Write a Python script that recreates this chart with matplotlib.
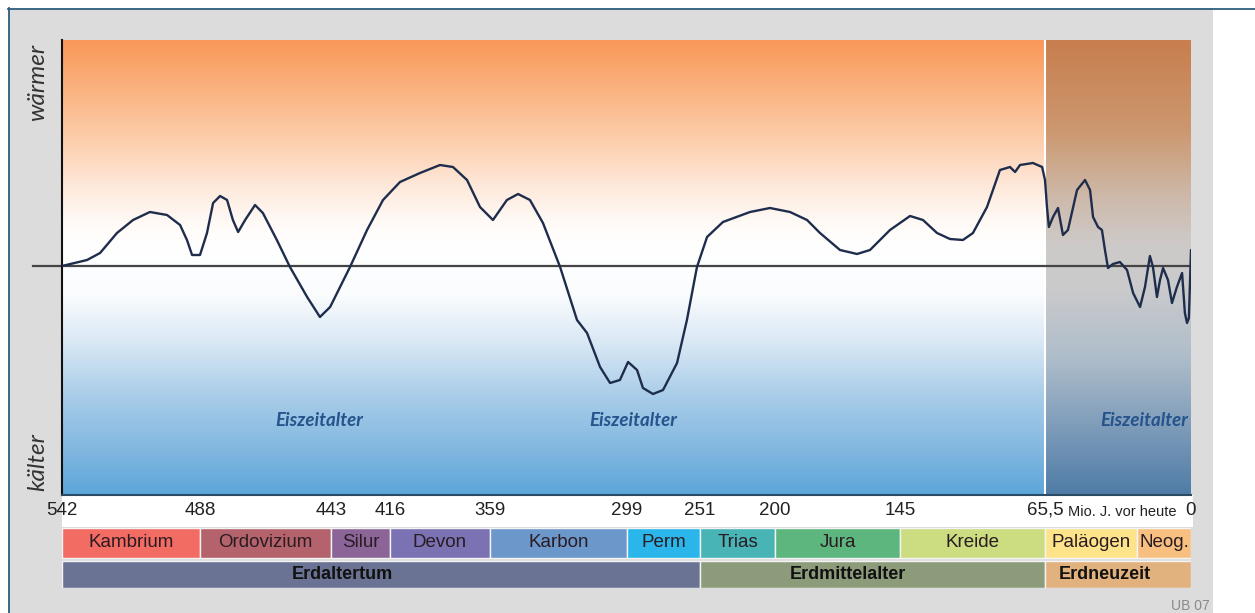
import numpy as np
import matplotlib
matplotlib.use("Agg")
import matplotlib.pyplot as plt
from matplotlib.patches import Rectangle

# ---------------- data ----------------
# non-linear time axis of the original chart (age -> horizontal pixel)
boundary_ages = [542, 488, 443, 416, 359, 299, 251, 200, 145, 65.5, 23, 0]
boundary_pos = [62, 200, 331, 390, 490, 627, 700, 775, 900, 1045, 1137, 1191]

tick_ages = [542, 488, 443, 416, 359, 299, 251, 200, 145, 65.5, 0]
tick_labels = ["542", "488", "443", "416", "359", "299", "251", "200", "145", "65,5", "0"]

periods = ["Kambrium", "Ordovizium", "Silur", "Devon", "Karbon", "Perm",
           "Trias", "Jura", "Kreide", "Paläogen", "Neog."]
period_start = [542, 488, 443, 416, 359, 299, 251, 200, 145, 65.5, 23]
period_end = [488, 443, 416, 359, 299, 251, 200, 145, 65.5, 23, 0]
period_colors = ["#f26c64", "#b4636c", "#8b6598", "#7a72b3", "#6b97cb", "#2ab6ea",
                 "#48b4b6", "#5cb67e", "#cbdd80", "#fde38a", "#f8c080"]

eras = ["Erdaltertum", "Erdmittelalter", "Erdneuzeit"]
era_start = [542, 251, 65.5]
era_end = [251, 65.5, 0]
era_label_age = [438, 168, 38]
era_colors = ["#6a7393", "#8c9c7b", "#e2b27e"]

curve_age = [542, 532.2, 527.1, 520.5, 514.2, 507.6, 500.9, 495.8, 493.1, 491.1,
             488.0, 485.6, 483.5, 481.1, 478.7, 476.7, 474.9, 472.5, 469.1, 466.4,
             461.6, 457.1, 451.2, 446.8, 443.3, 434.3, 426.5, 419.2, 410.3, 398.9,
             387.5, 380.1, 372.1, 364.7, 357.7, 351.6, 346.7, 341.5, 335.8, 328.3,
             320.9, 316.5, 310.8, 306.4, 302.1, 298.3, 292.4, 288.5, 281.9, 275.3,
             266.1, 259.6, 253.0, 246.2, 235.4, 217.0, 203.4, 193.4, 185.9, 180.2,
             171.4, 163.9, 158.2, 149.4, 139.5, 132.4, 124.7, 117.6, 110.5, 105.0,
             97.3, 90.2, 84.7, 81.9, 79.2, 72.1, 67.1, 65.5, 64.6, 63.7,
             61.8, 59.5, 57.2, 54.9, 50.7, 47.0, 44.7, 43.3, 41.0, 39.2,
             37.8, 36.4, 34.1, 30.9, 27.6, 24.8, 21.7, 19.6, 17.5, 16.2,
             14.5, 13.2, 11.9, 9.8, 8.1, 6.0, 3.8, 2.6, 1.7, 0.9,
             0.0]
curve_val = [0, 0.6, 1.3, 3.3, 4.6, 5.4, 5.1, 4.1, 2.6, 1.1,
             1.1, 3.3, 6.3, 7.0, 6.6, 4.6, 3.4, 4.6, 6.1, 5.3,
             2.6, -0.1, -3.1, -5.1, -4.1, -0.1, 3.6, 6.6, 8.4, 9.3,
             10.1, 9.9, 8.6, 5.9, 4.6, 6.6, 7.2, 6.6, 4.3, -0.1,
             -5.4, -6.7, -10.1, -11.7, -11.4, -9.6, -10.4, -12.2, -12.8, -12.4,
             -9.7, -5.4, -0.1, 2.9, 4.4, 5.4, 5.8, 5.4, 4.6, 3.3,
             1.6, 1.2, 1.6, 3.6, 5.0, 4.6, 3.3, 2.7, 2.6, 3.3,
             5.9, 9.6, 9.9, 9.4, 10.1, 10.3, 9.9, 8.6, 5.9, 3.9,
             4.9, 5.8, 3.1, 3.6, 7.6, 8.6, 7.6, 4.9, 3.9, 3.6,
             1.6, -0.2, 0.2, 0.4, -0.4, -2.7, -4.1, -2.1, 1.0, -0.1,
             -3.1, -1.4, -0.2, -1.4, -3.7, -2.1, -0.7, -4.7, -5.7, -5.2,
             1.6]

ice_age_labels = ["Eiszeitalter", "Eiszeitalter", "Eiszeitalter"]
ice_age_x = [447, 295, 1]
ice_age_y = [-15.4, -15.4, -15.4]

# ---------------- helpers ----------------
_ba = np.array(boundary_ages, float)
_bp = np.array(boundary_pos, float)


def fwd(a):
    # increasing in age; axis is then inverted with xlim(542, 0)
    return -np.interp(-np.asarray(a, float), -_ba, _bp)


def inv(p):
    return np.interp(-np.asarray(p, float), _bp, _ba)


def gradient(stops, n=456):
    t = np.linspace(0, 1, n)
    fr = [s[0] for s in stops]
    cols = np.array([s[1] for s in stops], float) / 255.0
    img = np.stack([np.interp(t, fr, cols[:, i]) for i in range(3)], axis=-1)
    return img[:, None, :]


W, H = 1255, 613
fig = plt.figure(figsize=(W / 100, H / 100), dpi=100)
fig.patch.set_facecolor("white")

SANS = ["Liberation Sans", "DejaVu Sans"]
ITAL = ["Lato", "DejaVu Sans"]

# background frame in pixel coordinates
bg = fig.add_axes([0, 0, 1, 1], zorder=-10)
bg.set_xlim(0, W)
bg.set_ylim(H, 0)
bg.axis("off")
bg.add_patch(Rectangle((8, 8), 1205, 610, facecolor="#dcdcdc", edgecolor="none"))
bg.plot([8, W], [8.5, 8.5], color="#2f5f80", lw=1.3)
bg.plot([8.5, 8.5], [8, H], color="#2f5f80", lw=1.3)
bg.add_patch(Rectangle((62, 495), 1131, 32, facecolor="white", edgecolor="none"))
bg.plot([33, 62], [266, 266], color="#444444", lw=1.6)
bg.text(38, 82, "wärmer", rotation=90, ha="center", va="center", fontsize=17.5,
        style="italic", family=ITAL, color="#333333")
bg.text(38, 462, "kälter", rotation=90, ha="center", va="center", fontsize=17.5,
        style="italic", family=ITAL, color="#333333")
bg.text(1068, 512, "Mio. J. vor heute", ha="left", va="center", fontsize=10.5,
        family=SANS, color="#222222")
bg.text(1210, 606, "UB 07", ha="right", va="center", fontsize=10,
        family=SANS, color="#8a8a8a")

# main chart
ax = fig.add_axes([62 / W, (H - 495) / H, 1129 / W, 455 / H], zorder=1)
ax.set_xscale("function", functions=(fwd, inv))
ax.set_xlim(542, 0)
ax.set_ylim(-22.9, 22.6)
ax.set_autoscale_on(False)

main_stops = [(0.0, (249, 152, 88)), (0.13, (251, 184, 136)), (0.24, (253, 211, 181)),
              (0.33, (254, 235, 222)), (0.40, (255, 250, 246)), (0.45, (255, 255, 255)),
              (0.56, (250, 252, 254)), (0.66, (219, 233, 245)), (0.79, (166, 203, 232)),
              (0.90, (130, 184, 224)), (1.0, (92, 166, 218))]
ax.imshow(gradient(main_stops), extent=[0, 1, 0, 1], transform=ax.transAxes,
          aspect="auto", zorder=0, interpolation="bilinear")

x0 = (fwd(65.5) - fwd(542)) / (fwd(0) - fwd(542))
right_stops = [(0.0, (200, 126, 78)), (0.2, (204, 152, 112)), (0.35, (206, 186, 172)),
               (0.45, (205, 202, 200)), (0.55, (202, 202, 204)), (0.70, (174, 189, 202)),
               (0.85, (126, 156, 186)), (1.0, (78, 124, 166))]
ax.imshow(gradient(right_stops), extent=[x0, 1, 0, 1], transform=ax.transAxes,
          aspect="auto", zorder=0.5, interpolation="bilinear")
ax.axvline(65.5, color="white", lw=1.5, zorder=1)

ax.axhline(0, color="#444444", lw=1.6, zorder=2)
ax.plot(curve_age, curve_val, color="#1f2d4d", lw=1.7, zorder=3,
        solid_joinstyle="round", solid_capstyle="round")

for lab, xa, ya in zip(ice_age_labels, ice_age_x, ice_age_y):
    ax.text(xa, ya, lab, ha="right" if xa < 10 else "center", va="center",
            fontsize=13.5, style="italic", weight="bold", family=ITAL,
            color="#25538c", zorder=4)

for s in ["top", "right"]:
    ax.spines[s].set_visible(False)
ax.spines["left"].set_color("#111111")
ax.spines["left"].set_linewidth(1.5)
ax.spines["bottom"].set_color("#2b4a66")
ax.spines["bottom"].set_linewidth(1.5)
ax.set_yticks([])
ax.set_xticks(tick_ages, tick_labels)
ax.tick_params(axis="x", length=0, pad=5, labelsize=13.5, labelcolor="#222222")
for t in ax.get_xticklabels():
    t.set_family(SANS)
ax.xaxis.set_minor_locator(matplotlib.ticker.NullLocator())

# period / era bars
bx = fig.add_axes([62 / W, (H - 588) / H, 1129 / W, 60 / H], zorder=1)
bx.set_xscale("function", functions=(fwd, inv))
bx.set_xlim(542, 0)
bx.set_ylim(588, 528)
bx.axis("off")
bx.barh([543] * len(periods), [s - e for s, e in zip(period_start, period_end)],
        left=period_end, height=30, color=period_colors, edgecolor="#f4f4f4", lw=1)
for name, s, e in zip(periods, period_start, period_end):
    mid = inv((fwd(s) + fwd(e)) / 2)
    bx.text(mid, 543, name, ha="center", va="center", fontsize=13.5, family=SANS,
            color="#2a1c22")
bx.barh([574.5] * len(eras), [s - e for s, e in zip(era_start, era_end)],
        left=era_end, height=27, color=era_colors, edgecolor="#f4f4f4", lw=1)
for name, xa in zip(eras, era_label_age):
    bx.text(xa, 574.5, name, ha="center", va="center", fontsize=13, weight="bold",
            family=SANS, color="#111111")

fig.savefig("out.png", dpi=100, facecolor=fig.get_facecolor())
